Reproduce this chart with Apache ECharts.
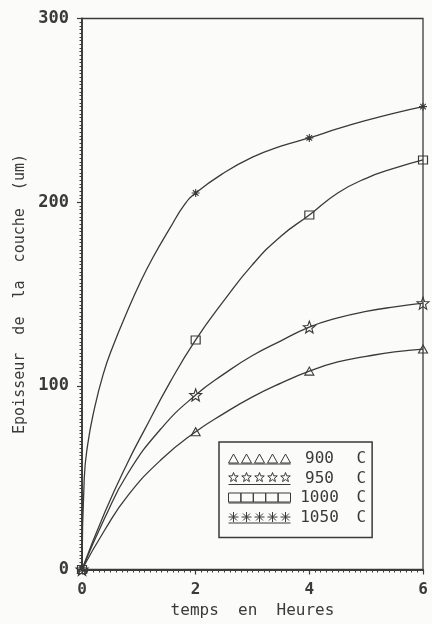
<!DOCTYPE html>
<html>
<head>
<meta charset="utf-8">
<style>
  html, body { margin: 0; padding: 0; background: #fbfbfa; }
  #chart { width: 432px; height: 624px; }
</style>
<script src="https://cdn.jsdelivr.net/npm/echarts@6/dist/echarts.min.js"></script>
</head>
<body>
<div id="chart"></div>
<script>
// Measured layer thickness (um) at each holding time (hours)
const hours = [0, 2, 4, 6];
const temps = ['900 C', '950 C', '1000 C', '1050 C'];
const t900  = [0, 75, 108, 120];
const t950  = [0, 95, 132, 145];
const t1000 = [0, 125, 193, 223];
const t1050 = [0, 205, 235, 252];

// Points traced along each fitted curve between the measurements [hours, um]
const curve900  = [[0.4, 21.5], [0.8, 40], [1.4, 60], [2.5, 85], [3, 94], [3.5, 101.5], [4.5, 113], [5, 116], [5.5, 118.5]];
const curve950  = [[0.4, 28], [0.8, 52], [1.4, 77], [2.5, 106.5], [3, 116.5], [3.5, 124.5], [4.5, 137], [5, 140.5], [5.5, 143]];
const curve1000 = [[0.4, 31], [0.8, 58], [1.1, 76], [1.55, 102], [2.5, 146.5], [3, 166], [3.5, 181.5], [4.5, 205], [5, 213], [5.5, 218.5]];
const curve1050 = [[0.04, 50], [0.1, 68], [0.2, 85], [0.37, 106], [0.55, 122], [0.79, 140], [1.02, 156], [1.25, 170], [1.55, 186], [1.8, 198.5],
                   [2.5, 216], [3, 224.5], [3.5, 230.5], [4.5, 240], [5, 244.5], [5.5, 248.5]];

const xTickLabels = ['0', '2', '4', '6'];
const yTickLabels = ['0', '100', '200', '300'];

const INK = '#3a3a3a';
const MONO = '"DejaVu Sans Mono", "Liberation Mono", monospace';

// marker shapes
const starPath = 'path://M5 0L6.23 3.3L9.76 3.45L7 5.65L7.94 9.05L5 7.1L2.06 9.05L3 5.65L0.24 3.45L3.77 3.3Z';
const asteriskPath = 'path://M0 5H10M5 0V10M1.5 1.5L8.5 8.5M8.5 1.5L1.5 8.5';
const markers = [
  { symbol: 'triangle', size: [9, 8] },
  { symbol: starPath, size: 12 },
  { symbol: 'rect', size: [9, 8] },
  { symbol: asteriskPath, size: 8 }
];

// legend samples: a row of five markers on a base line
function rowIcon(glyph, step) {
  let d = '';
  for (let i = 0; i < 5; i++) d += glyph(i * step);
  return 'path://' + d + 'M0 12H62';
}
const triGlyph = x => `M${x} 11L${x + 5} 2L${x + 10} 11Z`;
const starGlyph = x => `M${x + 5} 0L${x + 6.23} 3.3L${x + 9.76} 3.45L${x + 7} 5.65L${x + 7.94} 9.05L${x + 5} 7.1L${x + 2.06} 9.05L${x + 3} 5.65L${x + 0.24} 3.45L${x + 3.77} 3.3Z`;
const boxGlyph = x => `M${x} 2H${x + 12.4}V11H${x}Z`;
const astGlyph = x => `M${x} 6H${x + 10}M${x + 5} 1V11M${x + 1.5} 2.5L${x + 8.5} 9.5M${x + 8.5} 2.5L${x + 1.5} 9.5`;
const legendIcons = [
  rowIcon(triGlyph, 13),
  rowIcon(starGlyph, 13),
  rowIcon(boxGlyph, 12.4),
  rowIcon(astGlyph, 13)
];

// merge measured points (with markers) and traced points (plain) into one smooth line
function buildLine(values, trace) {
  const pts = hours.map((h, i) => ({ value: [h, values[i]] }));
  trace.forEach(p => pts.push({ value: p, symbol: 'none' }));
  pts.sort((a, b) => a.value[0] - b.value[0]);
  return pts;
}

const seriesValues = [t900, t950, t1000, t1050];
const traces = [curve900, curve950, curve1000, curve1050];

const chart = echarts.init(document.getElementById('chart'), null, { renderer: 'canvas' });

chart.setOption({
  backgroundColor: '#fbfbfa',
  animation: false,
  grid: {
    left: 82, right: 9, top: 18.5, bottom: 54.5,
    show: true, borderColor: INK, borderWidth: 1.3,
    backgroundColor: 'transparent'
  },
  xAxis: {
    type: 'value', min: 0, max: 6, interval: 2,
    name: 'temps  en  Heures',
    nameLocation: 'middle', nameGap: 24,
    nameTextStyle: { fontFamily: MONO, fontSize: 16, color: INK },
    axisLine: { show: true, lineStyle: { color: INK, width: 1.8 } },
    axisTick: { show: true, inside: false, length: 5, lineStyle: { color: INK, width: 1.2 } },
    minorTick: { show: true, splitNumber: 20, length: 3, lineStyle: { color: INK, width: 1 } },
    axisLabel: {
      margin: 12, fontFamily: MONO, fontSize: 16, fontWeight: 'bold', color: INK,
      formatter: v => xTickLabels[hours.indexOf(v)] ?? ''
    },
    splitLine: { show: false }
  },
  yAxis: {
    type: 'value', min: 0, max: 300, interval: 100,
    name: 'Epoisseur  de  la  couche  (um)',
    nameLocation: 'middle', nameGap: 50,
    nameTextStyle: { fontFamily: MONO, fontSize: 15, color: INK },
    axisLine: { show: true, lineStyle: { color: INK, width: 1.8 } },
    axisTick: { show: true, inside: false, length: 5, lineStyle: { color: INK, width: 1.2 } },
    minorTick: { show: true, splitNumber: 50, length: 2.5, lineStyle: { color: INK, width: 1 } },
    axisLabel: {
      margin: 13, fontFamily: MONO, fontSize: 17, fontWeight: 'bold', color: INK,
      formatter: v => yTickLabels[v / 100] ?? ''
    },
    splitLine: { show: false }
  },
  legend: {
    orient: 'vertical',
    left: 219, top: 442,
    padding: [9, 6, 12, 9],
    itemWidth: 62, itemHeight: 12, itemGap: 3.5,
    borderColor: INK, borderWidth: 1.5, borderRadius: 0,
    backgroundColor: 'transparent',
    itemStyle: { color: 'rgba(0,0,0,0)', borderColor: INK, borderWidth: 1 },
    data: temps.map((name, i) => ({ name, icon: legendIcons[i] })),
    formatter: name => {
      const parts = name.split(' ');
      return `{n|${parts[0]}}{c|${parts[1]}}`;
    },
    textStyle: {
      fontFamily: MONO, fontSize: 16, color: INK, lineHeight: 16,
      rich: {
        n: { fontFamily: MONO, fontSize: 16, color: INK, width: 48, align: 'right' },
        c: { fontFamily: MONO, fontSize: 16, color: INK, padding: [0, 0, 0, 13] }
      }
    }
  },
  series: temps.map((name, i) => ({
    name,
    type: 'line',
    smooth: 0.5,
    showAllSymbol: true,
    symbol: markers[i].symbol,
    symbolSize: markers[i].size,
    lineStyle: { color: INK, width: 1.3 },
    itemStyle: { color: 'rgba(0,0,0,0)', borderColor: INK, borderWidth: 1.1 },
    data: buildLine(seriesValues[i], traces[i])
  }))
});
</script>
</body>
</html>
